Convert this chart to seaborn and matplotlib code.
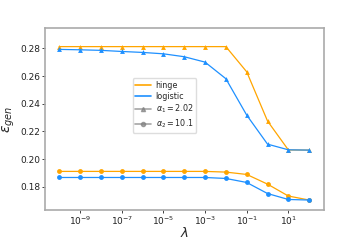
import numpy as np
import pandas as pd
import matplotlib
matplotlib.use("Agg")
import matplotlib.pyplot as plt
import seaborn as sns
from matplotlib.lines import Line2D

lambdas = [1e-10, 1e-9, 1e-8, 1e-7, 1e-6, 1e-5, 1e-4, 1e-3, 1e-2, 1e-1, 1e0, 1e1, 1e2]
hinge_a1 = [0.2813, 0.2813, 0.2813, 0.2813, 0.2813, 0.2813, 0.2813, 0.2813, 0.2813, 0.2631, 0.2275, 0.2066, 0.2065]
logistic_a1 = [0.2793, 0.2790, 0.2786, 0.2778, 0.2771, 0.2761, 0.2740, 0.2701, 0.2581, 0.2318, 0.2108, 0.2067, 0.2065]
hinge_a2 = [0.1911, 0.1911, 0.1911, 0.1911, 0.1911, 0.1911, 0.1911, 0.1911, 0.1906, 0.1889, 0.1819, 0.1733, 0.1704]
logistic_a2 = [0.1867, 0.1867, 0.1867, 0.1867, 0.1867, 0.1867, 0.1867, 0.1867, 0.1860, 0.1831, 0.1751, 0.1708, 0.1704]

rows = []
for loss, alpha, vals in [("hinge", "a1", hinge_a1), ("logistic", "a1", logistic_a1),
                          ("hinge", "a2", hinge_a2), ("logistic", "a2", logistic_a2)]:
    for l, v in zip(lambdas, vals):
        rows.append({"lambda": l, "eps": v, "loss": loss, "alpha": alpha})
df = pd.DataFrame(rows)

sns.set_style("white")
plt.rcParams['font.family'] = ['DejaVu Sans']
plt.rcParams['mathtext.fontset'] = 'dejavusans'

fig = plt.figure(figsize=(3.6, 2.4), dpi=100)
ax = fig.add_axes([0.125, 0.125, 0.775, 0.758])

palette = {"hinge": "#FFA500", "logistic": "#1E90FF"}
sns.lineplot(data=df, x="lambda", y="eps", hue="loss", style="alpha",
             markers={"a1": "^", "a2": "o"}, dashes=False, palette=palette,
             markersize=3.5, linewidth=0.9, markeredgewidth=0, ax=ax, legend=False)
ax.set_xscale("log")
ax.set_xticks([1e-9, 1e-7, 1e-5, 1e-3, 1e-1, 1e1])
ax.xaxis.set_minor_locator(matplotlib.ticker.NullLocator())
ax.set_yticks([0.18, 0.20, 0.22, 0.24, 0.26, 0.28])
ax.set_yticklabels(["0.18", "0.20", "0.22", "0.24", "0.26", "0.28"])
ax.set_ylim(0.1632, 0.2947)
ax.set_xlim(10**-10.68, 10**2.71)
ax.tick_params(axis='both', labelsize=6.5, length=2, width=0.6, direction='out',
               left=True, bottom=True, colors='#222222', pad=1.5)
ax.set_xlabel(r"$\lambda$", fontsize=9.5, labelpad=-1)
ax.set_ylabel(r"$\varepsilon_{gen}$", fontsize=10, labelpad=2)
for s in ax.spines.values():
    s.set_color('#aaaaaa')
    s.set_linewidth(1.2)

handles = [
    Line2D([], [], color="#FFA500", lw=1.2),
    Line2D([], [], color="#1E90FF", lw=1.2),
    Line2D([], [], color="gray", lw=1.2, marker="^", markersize=3, alpha=0.7),
    Line2D([], [], color="gray", lw=1.2, marker="o", markersize=3, alpha=0.7),
]
labels = ["hinge", "logistic", r"$\alpha_1 = 2.02$", r"$\alpha_2 = 10.1$"]
ax.legend(handles, labels, loc="center", bbox_to_anchor=(0.428, 0.575), fontsize=5.8,
          frameon=True, handlelength=2.0, borderpad=0.35, labelspacing=0.25,
          handletextpad=0.5, framealpha=1, edgecolor='#dddddd')

fig.savefig("out.png", dpi=100)
